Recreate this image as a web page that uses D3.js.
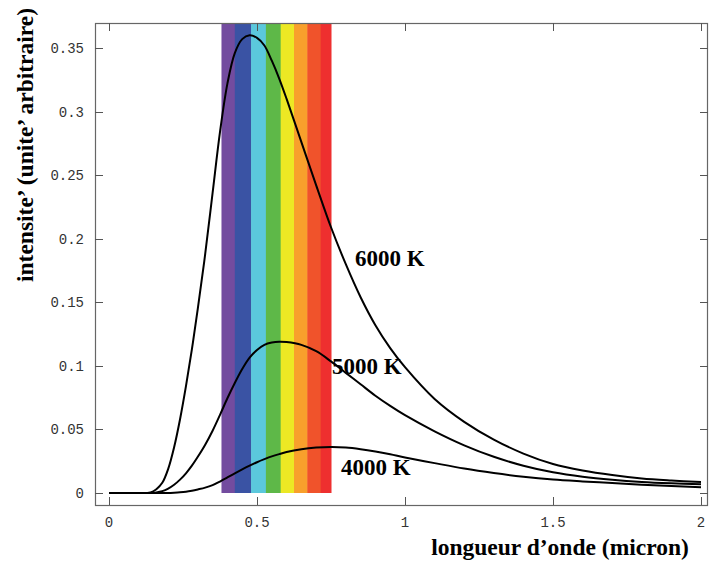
<!DOCTYPE html>
<html>
<head>
<meta charset="utf-8">
<script src="https://cdn.jsdelivr.net/npm/d3@7"></script>
<style>
  body { margin: 0; background: #fff; }
  .tick-label { font-family: 'Liberation Mono', monospace; font-size: 14px; fill: #333; }
  .title { font-family: 'Liberation Serif', 'Times New Roman', serif; font-weight: bold; font-size: 23.5px; fill: #000; }
  .curve-label { font-family: 'Liberation Serif', 'Times New Roman', serif; font-weight: bold; font-size: 23px; fill: #000; }
</style>
</head>
<body>
<div id="chart"></div>
<script>
'use strict'

// wavelength grid (micron)
const wavelengths = [0, 0.1, 0.14, 0.16, 0.18, 0.2, 0.22, 0.24, 0.26, 0.28, 0.3, 0.325, 0.35, 0.375, 0.4, 0.425, 0.45, 0.475, 0.5, 0.525, 0.55, 0.575, 0.6, 0.65, 0.7, 0.75, 0.8, 0.85, 0.9, 0.95, 1.0, 1.1, 1.2, 1.3, 1.4, 1.5, 1.6, 1.7, 1.8, 1.9, 2.0];

// intensities
const i6000 = [0, 0, 0.0005, 0.003, 0.008, 0.019, 0.036, 0.058, 0.084, 0.113, 0.145, 0.188, 0.236, 0.284, 0.322, 0.346, 0.357, 0.360, 0.358, 0.352, 0.340, 0.326, 0.310, 0.276, 0.242, 0.209, 0.180, 0.154, 0.132, 0.114, 0.099, 0.074, 0.056, 0.042, 0.031, 0.0228, 0.0177, 0.0141, 0.0114, 0.0098, 0.0086];
const i5000 = [0, 0, 0, 0.0005, 0.0015, 0.0035, 0.0065, 0.0105, 0.0155, 0.0215, 0.0285, 0.038, 0.049, 0.0615, 0.0745, 0.0865, 0.0975, 0.1065, 0.1125, 0.1165, 0.1183, 0.119, 0.1187, 0.1165, 0.1115, 0.1035, 0.0945, 0.0855, 0.0765, 0.0685, 0.0612, 0.0485, 0.0375, 0.0285, 0.0215, 0.0163, 0.0128, 0.0104, 0.0087, 0.0076, 0.0068];
const i4000 = [0, 0, 0, 0, 0, 0, 0.0002, 0.0005, 0.001, 0.0018, 0.0028, 0.0042, 0.0062, 0.009, 0.0122, 0.0155, 0.0186, 0.0215, 0.0242, 0.0266, 0.0288, 0.0306, 0.0322, 0.0344, 0.0357, 0.0362, 0.0358, 0.0345, 0.0327, 0.0305, 0.028, 0.0235, 0.0192, 0.0157, 0.0128, 0.0106, 0.0091, 0.0078, 0.0065, 0.0055, 0.0046];

const seriesNames = ['6000 K', '5000 K', '4000 K'];

// visible spectrum bands (micron)
const bandEdges = [0.38, 0.425, 0.48, 0.53, 0.58, 0.625, 0.67, 0.715, 0.75];
const bandColors = ['#734c9f', '#3a53a4', '#5bc8dc', '#5eb848', '#ece824', '#f8a02c', '#f0532b', '#ee2f2f'];

const xTicks = [0, 0.5, 1, 1.5, 2];
const yTicks = [0, 0.05, 0.1, 0.15, 0.2, 0.25, 0.3, 0.35];

const width = 709, height = 561;
const frame = { left: 95, right: 708, top: 23, bottom: 505 };

const svg = d3.select('#chart').append('svg')
  .attr('width', width)
  .attr('height', height);

const x = d3.scaleLinear().domain([0, 2]).range([109, 701]);
const y = d3.scaleLinear().domain([0, 0.35]).range([493, 48]);

// spectrum
const bands = d3.range(bandColors.length).map(i => ({ a: bandEdges[i], b: bandEdges[i + 1], c: bandColors[i] }));
svg.append('g').selectAll('rect')
  .data(bands)
  .join('rect')
  .attr('x', d => x(d.a))
  .attr('width', d => x(d.b) - x(d.a) + 0.5)
  .attr('y', frame.top)
  .attr('height', y(0) - frame.top)
  .attr('fill', d => d.c);

// frame
svg.append('rect')
  .attr('x', frame.left + 0.5)
  .attr('y', frame.top + 0.5)
  .attr('width', frame.right - frame.left - 1)
  .attr('height', frame.bottom - frame.top)
  .attr('fill', 'none')
  .attr('stroke', '#666')
  .attr('stroke-width', 1.2);

const tickLen = 8;
const ticks = svg.append('g').attr('stroke', '#555').attr('stroke-width', 1);

xTicks.forEach(t => {
  const px = Math.round(x(t)) + 0.5;
  ticks.append('line').attr('x1', px).attr('x2', px).attr('y1', frame.bottom).attr('y2', frame.bottom - tickLen);
  ticks.append('line').attr('x1', px).attr('x2', px).attr('y1', frame.top).attr('y2', frame.top + tickLen);
});
yTicks.forEach(t => {
  const py = Math.round(y(t)) + 0.5;
  ticks.append('line').attr('x1', frame.left).attr('x2', frame.left + tickLen).attr('y1', py).attr('y2', py);
  ticks.append('line').attr('x1', frame.right).attr('x2', frame.right - tickLen).attr('y1', py).attr('y2', py);
});

svg.append('g').selectAll('text')
  .data(xTicks)
  .join('text')
  .attr('class', 'tick-label')
  .attr('x', d => x(d))
  .attr('y', 527)
  .attr('text-anchor', 'middle')
  .text(d => d);

svg.append('g').selectAll('text')
  .data(yTicks)
  .join('text')
  .attr('class', 'tick-label')
  .attr('x', 84)
  .attr('y', d => y(d) + 5)
  .attr('text-anchor', 'end')
  .text(d => d);

// curves
const line = d3.line()
  .x((d, i) => x(wavelengths[i]))
  .y(d => y(d))
  .curve(d3.curveCatmullRom.alpha(0.5));

svg.append('g').selectAll('path')
  .data([i6000, i5000, i4000])
  .join('path')
  .attr('d', line)
  .attr('fill', 'none')
  .attr('stroke', '#000')
  .attr('stroke-width', 2);

// curve labels
const labelPos = [[355, 266], [332, 374], [341, 475]];
svg.append('g').selectAll('text')
  .data(seriesNames)
  .join('text')
  .attr('class', 'curve-label')
  .attr('x', (d, i) => labelPos[i][0])
  .attr('y', (d, i) => labelPos[i][1])
  .text(d => d);

// axis titles
svg.append('text')
  .attr('class', 'title')
  .attr('text-anchor', 'middle')
  .attr('transform', 'translate(33,145) rotate(-90)')
  .text('intensite’ (unite’ arbitraire)');

svg.append('text')
  .attr('class', 'title')
  .attr('text-anchor', 'middle')
  .attr('x', 560)
  .attr('y', 555)
  .text('longueur d’onde (micron)');
</script>
</body>
</html>
